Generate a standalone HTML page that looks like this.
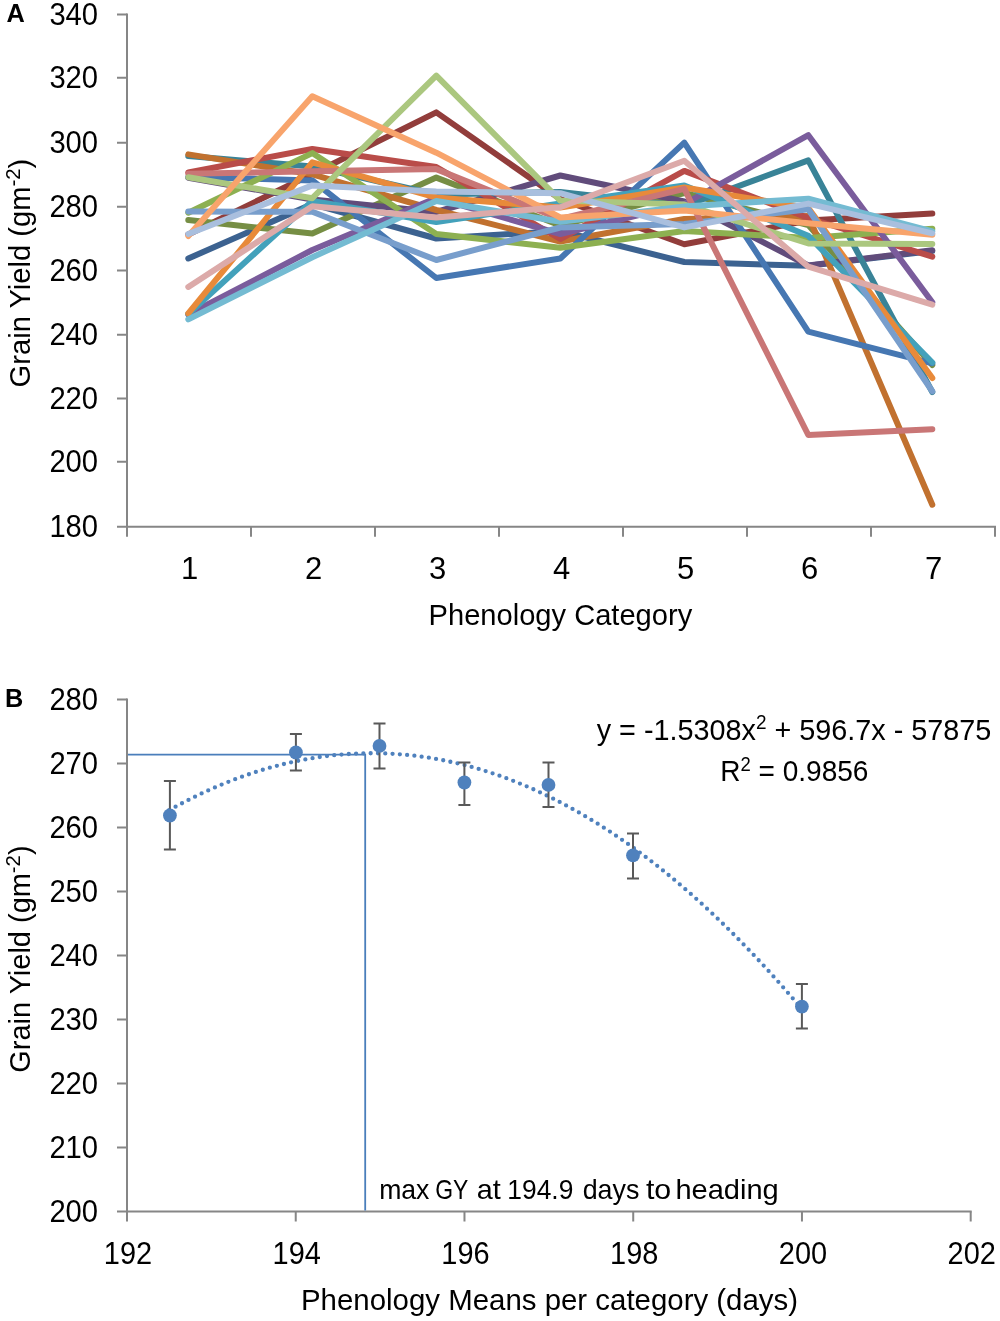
<!DOCTYPE html>
<html><head><meta charset="utf-8"><style>html,body{margin:0;padding:0;background:#fff;width:1000px;height:1321px;overflow:hidden}</style></head>
<body>
<svg width="1000" height="1321" viewBox="0 0 1000 1321" style="display:block;will-change:transform">
<rect width="1000" height="1321" fill="#fff"/>
<g stroke="#868686" stroke-width="2" fill="none">
<path d="M127 13.6V526.85H996"/>
<path d="M117 14.6H127M117 77.7H127M117 142.8H127M117 206.7H127M117 270.6H127M117 334.7H127M117 398.6H127M117 461.85H127M117 526.85H127M127 526.85V536.7M251 526.85V536.7M375 526.85V536.7M499 526.85V536.7M623 526.85V536.7M747 526.85V536.7M871 526.85V536.7M995 526.85V536.7"/>
</g>
<g fill="none" stroke-width="6" stroke-linejoin="round" stroke-linecap="round">
<path d="M188.3 258.5 L312.3 204 L436.3 238.5 L560.3 231 L684.3 262 L808.3 265.8 L932.3 251" stroke="#3C6290"/>
<path d="M188.3 234.5 L312.3 174 L436.3 112.4 L560.3 199 L684.3 244.2 L808.3 220.5 L932.3 213.6" stroke="#923D3B"/>
<path d="M188.3 220 L312.3 233.6 L436.3 177.6 L560.3 225.5 L684.3 193 L808.3 225 L932.3 365" stroke="#768E44"/>
<path d="M188.3 177.7 L312.3 199.5 L436.3 212 L560.3 175.5 L684.3 201.5 L808.3 265.5 L932.3 250.2" stroke="#614C7B"/>
<path d="M188.3 156 L312.3 166.5 L436.3 194.5 L560.3 192 L684.3 206 L808.3 160.4 L932.3 392" stroke="#398397"/>
<path d="M188.3 154.4 L312.3 174.3 L436.3 210 L560.3 241.5 L684.3 219 L808.3 216 L932.3 504.7" stroke="#C1712F"/>
<path d="M188.3 177 L312.3 180.4 L436.3 278 L560.3 258.5 L684.3 142.6 L808.3 331.7 L932.3 363.3" stroke="#4677B2"/>
<path d="M188.3 172.5 L312.3 149 L436.3 167 L560.3 239 L684.3 170.9 L808.3 218 L932.3 256.7" stroke="#B94C49"/>
<path d="M188.3 212.7 L312.3 153.1 L436.3 234 L560.3 247.7 L684.3 231 L808.3 237.9 L932.3 228.8" stroke="#8DB051"/>
<path d="M188.3 314.5 L312.3 250 L436.3 198 L560.3 234 L684.3 204 L808.3 135.2 L932.3 302.2" stroke="#7A5C9C"/>
<path d="M188.3 314 L312.3 201 L436.3 222 L560.3 203.5 L684.3 185.5 L808.3 235.8 L932.3 362.5" stroke="#43A1BB"/>
<path d="M188.3 313.4 L312.3 162.4 L436.3 197.5 L560.3 207.5 L684.3 187.5 L808.3 208 L932.3 378" stroke="#E88A3A"/>
<path d="M188.3 211.5 L312.3 211.8 L436.3 260 L560.3 227.5 L684.3 224 L808.3 209.2 L932.3 391.3" stroke="#789ECC"/>
<path d="M188.3 173.7 L312.3 171.3 L436.3 169.1 L560.3 219 L684.3 188.9 L808.3 435 L932.3 429.2" stroke="#C97676"/>
<path d="M188.3 177.3 L312.3 198.2 L436.3 75.6 L560.3 200.6 L684.3 204.6 L808.3 243.5 L932.3 243.9" stroke="#ABC77F"/>
<path d="M188.3 319.4 L312.3 257.2 L436.3 201 L560.3 221.8 L684.3 206.4 L808.3 198.7 L932.3 231.3" stroke="#74BBD2"/>
<path d="M188.3 236 L312.3 96.3 L436.3 152.7 L560.3 217.5 L684.3 210.6 L808.3 223.2 L932.3 234.7" stroke="#F8A46C"/>
<path d="M188.3 234 L312.3 185.4 L436.3 191.5 L560.3 193.2 L684.3 227.4 L808.3 203.6 L932.3 233.3" stroke="#A9BFDE"/>
<path d="M188.3 286.9 L312.3 206.3 L436.3 217.5 L560.3 207.3 L684.3 160.7 L808.3 266.7 L932.3 304.7" stroke="#DCAAA9"/>
</g>
<text font-family="Liberation Sans, sans-serif" font-size="31.00" font-weight="normal" text-anchor="end" xml:space="preserve" x="98.10" y="25.10" textLength="48.70" lengthAdjust="spacingAndGlyphs">340</text>
<text font-family="Liberation Sans, sans-serif" font-size="31.00" font-weight="normal" text-anchor="end" xml:space="preserve" x="98.10" y="88.20" textLength="48.70" lengthAdjust="spacingAndGlyphs">320</text>
<text font-family="Liberation Sans, sans-serif" font-size="31.00" font-weight="normal" text-anchor="end" xml:space="preserve" x="98.10" y="153.30" textLength="48.70" lengthAdjust="spacingAndGlyphs">300</text>
<text font-family="Liberation Sans, sans-serif" font-size="31.00" font-weight="normal" text-anchor="end" xml:space="preserve" x="98.10" y="217.20" textLength="48.70" lengthAdjust="spacingAndGlyphs">280</text>
<text font-family="Liberation Sans, sans-serif" font-size="31.00" font-weight="normal" text-anchor="end" xml:space="preserve" x="98.10" y="281.10" textLength="48.70" lengthAdjust="spacingAndGlyphs">260</text>
<text font-family="Liberation Sans, sans-serif" font-size="31.00" font-weight="normal" text-anchor="end" xml:space="preserve" x="98.10" y="345.20" textLength="48.70" lengthAdjust="spacingAndGlyphs">240</text>
<text font-family="Liberation Sans, sans-serif" font-size="31.00" font-weight="normal" text-anchor="end" xml:space="preserve" x="98.10" y="409.10" textLength="48.70" lengthAdjust="spacingAndGlyphs">220</text>
<text font-family="Liberation Sans, sans-serif" font-size="31.00" font-weight="normal" text-anchor="end" xml:space="preserve" x="98.10" y="472.35" textLength="48.70" lengthAdjust="spacingAndGlyphs">200</text>
<text font-family="Liberation Sans, sans-serif" font-size="31.00" font-weight="normal" text-anchor="end" xml:space="preserve" x="98.10" y="537.35" textLength="48.70" lengthAdjust="spacingAndGlyphs">180</text>
<text font-family="Liberation Sans, sans-serif" font-size="31.00" font-weight="normal" text-anchor="middle" xml:space="preserve" x="189.60" y="579.45">1</text>
<text font-family="Liberation Sans, sans-serif" font-size="31.00" font-weight="normal" text-anchor="middle" xml:space="preserve" x="313.60" y="579.45">2</text>
<text font-family="Liberation Sans, sans-serif" font-size="31.00" font-weight="normal" text-anchor="middle" xml:space="preserve" x="437.60" y="579.45">3</text>
<text font-family="Liberation Sans, sans-serif" font-size="31.00" font-weight="normal" text-anchor="middle" xml:space="preserve" x="561.60" y="579.45">4</text>
<text font-family="Liberation Sans, sans-serif" font-size="31.00" font-weight="normal" text-anchor="middle" xml:space="preserve" x="685.60" y="579.45">5</text>
<text font-family="Liberation Sans, sans-serif" font-size="31.00" font-weight="normal" text-anchor="middle" xml:space="preserve" x="809.60" y="579.45">6</text>
<text font-family="Liberation Sans, sans-serif" font-size="31.00" font-weight="normal" text-anchor="middle" xml:space="preserve" x="933.60" y="579.45">7</text>
<text font-family="Liberation Sans, sans-serif" font-size="30.00" font-weight="normal" text-anchor="start" xml:space="preserve" x="428.60" y="625.40" textLength="263.63" lengthAdjust="spacingAndGlyphs">Phenology Category</text>
<text font-family="Liberation Sans, sans-serif" font-size="30.00" font-weight="normal" text-anchor="start" xml:space="preserve" transform="translate(30.45 387.38) rotate(-90)" textLength="228.70" lengthAdjust="spacingAndGlyphs">Grain Yield (gm<tspan font-size="21.00" dy="-10.20">-2</tspan><tspan dy="10.20">)</tspan></text>
<text font-family="Liberation Sans, sans-serif" font-size="25.30" font-weight="bold" text-anchor="start" xml:space="preserve" x="6.50" y="21.70">A</text>
<g stroke="#868686" stroke-width="2" fill="none">
<path d="M127 698.6V1211.6H971.7"/>
<path d="M117 699.60H127M117 763.60H127M117 827.60H127M117 891.60H127M117 955.60H127M117 1019.60H127M117 1083.60H127M117 1147.60H127M117 1211.60H127M127.00 1211.6V1221.6M295.74 1211.6V1221.6M464.48 1211.6V1221.6M633.22 1211.6V1221.6M801.96 1211.6V1221.6M970.70 1211.6V1221.6"/>
</g>
<path d="M128 754.6H365.2V1210.6" fill="none" stroke="#4A7EBB" stroke-width="1.8"/>
<path d="M169.19 810.22 L173.43 807.86 L177.68 805.55 L181.93 803.29 L186.17 801.07 L190.42 798.91 L194.67 796.80 L198.91 794.74 L203.16 792.73 L207.41 790.77 L211.65 788.86 L215.90 787.00 L220.15 785.18 L224.39 783.42 L228.64 781.71 L232.89 780.05 L237.13 778.44 L241.38 776.88 L245.63 775.36 L249.87 773.90 L254.12 772.49 L258.37 771.13 L262.61 769.82 L266.86 768.55 L271.11 767.34 L275.36 766.18 L279.60 765.07 L283.85 764.00 L288.10 762.99 L292.34 762.03 L296.59 761.12 L300.84 760.25 L305.08 759.44 L309.33 758.68 L313.58 757.97 L317.82 757.30 L322.07 756.69 L326.32 756.13 L330.56 755.62 L334.81 755.15 L339.06 754.74 L343.30 754.38 L347.55 754.06 L351.80 753.80 L356.04 753.59 L360.29 753.42 L364.54 753.31 L368.79 753.25 L373.03 753.23 L377.28 753.27 L381.53 753.36 L385.77 753.49 L390.02 753.68 L394.27 753.92 L398.51 754.20 L402.76 754.54 L407.01 754.93 L411.25 755.36 L415.50 755.85 L419.75 756.38 L423.99 756.97 L428.24 757.61 L432.49 758.29 L436.73 759.03 L440.98 759.81 L445.23 760.65 L449.47 761.54 L453.72 762.47 L457.97 763.46 L462.22 764.49 L466.46 765.58 L470.71 766.71 L474.96 767.90 L479.20 769.13 L483.45 770.42 L487.70 771.76 L491.94 773.14 L496.19 774.58 L500.44 776.06 L504.68 777.60 L508.93 779.18 L513.18 780.82 L517.42 782.50 L521.67 784.24 L525.92 786.02 L530.16 787.86 L534.41 789.74 L538.66 791.68 L542.90 793.66 L547.15 795.69 L551.40 797.78 L555.64 799.91 L559.89 802.10 L564.14 804.33 L568.39 806.62 L572.63 808.95 L576.88 811.34 L581.13 813.77 L585.37 816.25 L589.62 818.79 L593.87 821.37 L598.11 824.01 L602.36 826.69 L606.61 829.42 L610.85 832.21 L615.10 835.04 L619.35 837.93 L623.59 840.86 L627.84 843.84 L632.09 846.88 L636.33 849.96 L640.58 853.09 L644.83 856.28 L649.07 859.51 L653.32 862.79 L657.57 866.13 L661.82 869.51 L666.06 872.94 L670.31 876.43 L674.56 879.96 L678.80 883.54 L683.05 887.18 L687.30 890.86 L691.54 894.59 L695.79 898.37 L700.04 902.21 L704.28 906.09 L708.53 910.02 L712.78 914.01 L717.02 918.04 L721.27 922.12 L725.52 926.25 L729.76 930.44 L734.01 934.67 L738.26 938.95 L742.50 943.28 L746.75 947.67 L751.00 952.10 L755.25 956.58 L759.49 961.11 L763.74 965.69 L767.99 970.33 L772.23 975.01 L776.48 979.74 L780.73 984.52 L784.97 989.35 L789.22 994.24 L793.47 999.17 L797.71 1004.15 L801.96 1009.18" fill="none" stroke="#4F81BD" stroke-width="4.3" stroke-linecap="round" stroke-dasharray="0 7.3"/>
<path d="M169.9 781V849.4M163.9 781H175.9M163.9 849.4H175.9M295.9 733.9V770.5M289.9 733.9H301.9M289.9 770.5H301.9M379.5 723.4V768.4M373.5 723.4H385.5M373.5 768.4H385.5M464.4 762.4V805M458.4 762.4H470.4M458.4 805H470.4M548.5 762.4V807.1M542.5 762.4H554.5M542.5 807.1H554.5M633 833.5V878.5M627 833.5H639M627 878.5H639M801.9 984.1V1028.5M795.9 984.1H807.9M795.9 1028.5H807.9" fill="none" stroke="#595959" stroke-width="2"/>
<circle cx="169.9" cy="815.5" r="6.9" fill="#4F81BD"/>
<circle cx="295.9" cy="752.5" r="6.9" fill="#4F81BD"/>
<circle cx="379.5" cy="745.9" r="6.9" fill="#4F81BD"/>
<circle cx="464.4" cy="782.5" r="6.9" fill="#4F81BD"/>
<circle cx="548.5" cy="784.9" r="6.9" fill="#4F81BD"/>
<circle cx="633" cy="855.4" r="6.9" fill="#4F81BD"/>
<circle cx="801.9" cy="1006.6" r="6.9" fill="#4F81BD"/>
<text font-family="Liberation Sans, sans-serif" font-size="31.00" font-weight="normal" text-anchor="end" xml:space="preserve" x="98.10" y="710.10" textLength="48.70" lengthAdjust="spacingAndGlyphs">280</text>
<text font-family="Liberation Sans, sans-serif" font-size="31.00" font-weight="normal" text-anchor="end" xml:space="preserve" x="98.10" y="774.10" textLength="48.70" lengthAdjust="spacingAndGlyphs">270</text>
<text font-family="Liberation Sans, sans-serif" font-size="31.00" font-weight="normal" text-anchor="end" xml:space="preserve" x="98.10" y="838.10" textLength="48.70" lengthAdjust="spacingAndGlyphs">260</text>
<text font-family="Liberation Sans, sans-serif" font-size="31.00" font-weight="normal" text-anchor="end" xml:space="preserve" x="98.10" y="902.10" textLength="48.70" lengthAdjust="spacingAndGlyphs">250</text>
<text font-family="Liberation Sans, sans-serif" font-size="31.00" font-weight="normal" text-anchor="end" xml:space="preserve" x="98.10" y="966.10" textLength="48.70" lengthAdjust="spacingAndGlyphs">240</text>
<text font-family="Liberation Sans, sans-serif" font-size="31.00" font-weight="normal" text-anchor="end" xml:space="preserve" x="98.10" y="1030.10" textLength="48.70" lengthAdjust="spacingAndGlyphs">230</text>
<text font-family="Liberation Sans, sans-serif" font-size="31.00" font-weight="normal" text-anchor="end" xml:space="preserve" x="98.10" y="1094.10" textLength="48.70" lengthAdjust="spacingAndGlyphs">220</text>
<text font-family="Liberation Sans, sans-serif" font-size="31.00" font-weight="normal" text-anchor="end" xml:space="preserve" x="98.10" y="1158.10" textLength="48.70" lengthAdjust="spacingAndGlyphs">210</text>
<text font-family="Liberation Sans, sans-serif" font-size="31.00" font-weight="normal" text-anchor="end" xml:space="preserve" x="98.10" y="1222.10" textLength="48.70" lengthAdjust="spacingAndGlyphs">200</text>
<text font-family="Liberation Sans, sans-serif" font-size="31.00" font-weight="normal" text-anchor="middle" xml:space="preserve" x="128.00" y="1263.75" textLength="48.32" lengthAdjust="spacingAndGlyphs">192</text>
<text font-family="Liberation Sans, sans-serif" font-size="31.00" font-weight="normal" text-anchor="middle" xml:space="preserve" x="296.74" y="1263.75" textLength="48.32" lengthAdjust="spacingAndGlyphs">194</text>
<text font-family="Liberation Sans, sans-serif" font-size="31.00" font-weight="normal" text-anchor="middle" xml:space="preserve" x="465.48" y="1263.75" textLength="48.32" lengthAdjust="spacingAndGlyphs">196</text>
<text font-family="Liberation Sans, sans-serif" font-size="31.00" font-weight="normal" text-anchor="middle" xml:space="preserve" x="634.22" y="1263.75" textLength="48.32" lengthAdjust="spacingAndGlyphs">198</text>
<text font-family="Liberation Sans, sans-serif" font-size="31.00" font-weight="normal" text-anchor="middle" xml:space="preserve" x="802.96" y="1263.75" textLength="48.32" lengthAdjust="spacingAndGlyphs">200</text>
<text font-family="Liberation Sans, sans-serif" font-size="31.00" font-weight="normal" text-anchor="middle" xml:space="preserve" x="971.70" y="1263.75" textLength="48.32" lengthAdjust="spacingAndGlyphs">202</text>
<text font-family="Liberation Sans, sans-serif" font-size="30.00" font-weight="normal" text-anchor="start" xml:space="preserve" x="301.00" y="1310.25" textLength="497.04" lengthAdjust="spacingAndGlyphs">Phenology Means per category (days)</text>
<text font-family="Liberation Sans, sans-serif" font-size="30.00" font-weight="normal" text-anchor="start" xml:space="preserve" transform="translate(30.45 1072.70) rotate(-90)" textLength="227.26" lengthAdjust="spacingAndGlyphs">Grain Yield (gm<tspan font-size="21.00" dy="-10.20">-2</tspan><tspan dy="10.20">)</tspan></text>
<text font-family="Liberation Sans, sans-serif" font-size="25.30" font-weight="bold" text-anchor="start" xml:space="preserve" x="5.00" y="706.70">B</text>
<text font-family="Liberation Sans, sans-serif" font-size="29.50" font-weight="normal" text-anchor="start" xml:space="preserve" x="596.70" y="739.85" textLength="394.61" lengthAdjust="spacingAndGlyphs">y = -1.5308x<tspan font-size="19.47" dy="-10.80">2</tspan><tspan dy="10.80"> + 596.7x - 57875</tspan></text>
<text font-family="Liberation Sans, sans-serif" font-size="29.50" font-weight="normal" text-anchor="start" xml:space="preserve" x="720.20" y="781.30" textLength="148.28" lengthAdjust="spacingAndGlyphs">R<tspan font-size="19.47" dy="-10.80">2</tspan><tspan dy="10.80"> = 0.9856</tspan></text>
<text font-family="Liberation Sans, sans-serif" font-size="27.60" font-weight="normal" text-anchor="start" xml:space="preserve" x="379.15" y="1199.30" textLength="50.30" lengthAdjust="spacingAndGlyphs">max</text>
<text font-family="Liberation Sans, sans-serif" font-size="27.60" font-weight="normal" text-anchor="start" xml:space="preserve" x="435.15" y="1199.30" textLength="33.15" lengthAdjust="spacingAndGlyphs">GY</text>
<text font-family="Liberation Sans, sans-serif" font-size="27.60" font-weight="normal" text-anchor="start" xml:space="preserve" x="476.65" y="1199.30" textLength="24.00" lengthAdjust="spacingAndGlyphs">at</text>
<text font-family="Liberation Sans, sans-serif" font-size="27.60" font-weight="normal" text-anchor="start" xml:space="preserve" x="507.35" y="1199.30" textLength="65.95" lengthAdjust="spacingAndGlyphs">194.9</text>
<text font-family="Liberation Sans, sans-serif" font-size="27.60" font-weight="normal" text-anchor="start" xml:space="preserve" x="582.70" y="1199.30" textLength="56.71" lengthAdjust="spacingAndGlyphs">days</text>
<text font-family="Liberation Sans, sans-serif" font-size="27.60" font-weight="normal" text-anchor="start" xml:space="preserve" x="645.90" y="1199.30" textLength="25.32" lengthAdjust="spacingAndGlyphs">to</text>
<text font-family="Liberation Sans, sans-serif" font-size="27.60" font-weight="normal" text-anchor="start" xml:space="preserve" x="675.40" y="1199.30" textLength="103.38" lengthAdjust="spacingAndGlyphs">heading</text>
</svg>
</body></html>
